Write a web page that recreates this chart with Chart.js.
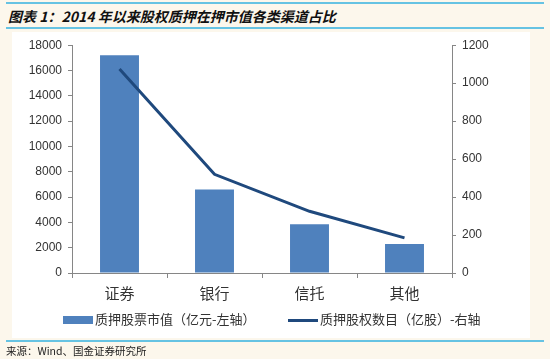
<!DOCTYPE html>
<html>
<head>
<meta charset="utf-8">
<script src="https://cdn.jsdelivr.net/npm/chart.js@4.4.1/dist/chart.umd.min.js"></script>
<style>
  body { margin: 0; width: 550px; height: 359px; background: #fcf7ec; position: relative; overflow: hidden; }
  .rule { position: absolute; left: 6px; width: 538px; height: 2px; background: #66c3e3; }
  #title { position: absolute; left: 8px; top: 6px; font: italic bold 14px "Noto Sans CJK SC", sans-serif; color: #111; white-space: nowrap; }
  #panel { position: absolute; left: 12px; top: 32px; width: 518px; height: 306px; background: #ffffff; }
  #source { position: absolute; left: 6px; top: 343px; font: 10.5px "Noto Sans CJK SC", sans-serif; color: #222; white-space: nowrap; }
  .legend { position: absolute; top: 309px; font: 13px "Noto Sans CJK SC", sans-serif; color: #333; white-space: nowrap; line-height: 20px; }
  .legend i { display: inline-block; width: 30px; vertical-align: middle; margin-right: 2px; }
</style>
</head>
<body>
<div class="rule" style="top:2px"></div>
<div id="title">图表 1：2014 年以来股权质押在押市值各类渠道占比</div>
<div class="rule" style="top:27px"></div>
<div id="panel"><canvas id="chart" width="518" height="285"></canvas></div>
<div class="legend" style="left:63px"><i style="height:8px;background:#4f81bd"></i>质押股票市值（亿元-左轴）</div>
<div class="legend" style="left:288px"><i style="height:3px;background:#1f497d"></i>质押股权数目（亿股）-右轴</div>
<div class="rule" style="top:340px"></div>
<div id="source">来源：Wind、国金证券研究所</div>

<script>
// categories and series
const categories = ["证券", "银行", "信托", "其他"];
const marketValue = [17200, 6600, 3850, 2300];   // 亿元, left axis
const pledgedShares = [1075, 520, 325, 185];    // 亿股, right axis
const leftTicks = [0, 2000, 4000, 6000, 8000, 10000, 12000, 14000, 16000, 18000];
const rightTicks = [0, 200, 400, 600, 800, 1000, 1200];

const axisColor = '#868686';
const tickFont = { family: '"Liberation Sans", Arial, sans-serif', size: 12 };

const ctx = document.getElementById('chart').getContext('2d');
new Chart(ctx, {
    data: {
        labels: categories,
        datasets: [
            {
                type: 'line',
                label: '质押股权数目（亿股）-右轴',
                data: pledgedShares,
                yAxisID: 'y2',
                borderColor: '#1f497d',
                borderWidth: 3,
                pointRadius: 0,
                tension: 0,
                order: 0
            },
            {
                type: 'bar',
                label: '质押股票市值（亿元-左轴）',
                data: marketValue,
                yAxisID: 'y',
                backgroundColor: '#4f81bd',
                borderWidth: 0,
                barPercentage: 0.41,
                categoryPercentage: 1,
                order: 1
            }
        ]
    },
    options: {
        responsive: false,
        animation: false,
        layout: { padding: { top: 6, left: 0, right: 0, bottom: 4 } },
        plugins: {
            tooltip: { enabled: false },
            legend: { display: false }
        },
        scales: {
            x: {
                grid: { drawOnChartArea: false, drawTicks: true, tickLength: 5, color: axisColor, offset: true },
                border: { color: axisColor, width: 1 },
                ticks: { color: '#333', padding: 6, font: { family: '"Noto Sans CJK SC", sans-serif', size: 15 } },
                afterFit: s => { s.height = 40; }
            },
            y: {
                position: 'left',
                min: 0,
                max: 18000,
                afterBuildTicks: s => { s.ticks = leftTicks.map(v => ({ value: v })); },
                grid: { drawOnChartArea: false, tickLength: 4, color: axisColor },
                border: { color: axisColor, width: 1 },
                ticks: { color: '#333', padding: 6, font: tickFont, callback: v => String(v) },
                afterFit: s => { s.width = 60; }
            },
            y2: {
                position: 'right',
                min: 0,
                max: 1200,
                afterBuildTicks: s => { s.ticks = rightTicks.map(v => ({ value: v })); },
                grid: { drawOnChartArea: false, tickLength: 4, color: axisColor },
                border: { color: axisColor, width: 1 },
                ticks: { color: '#333', padding: 6, font: tickFont, callback: v => String(v) },
                afterFit: s => { s.width = 78; }
            }
        }
    }
});
</script>
</body>
</html>
